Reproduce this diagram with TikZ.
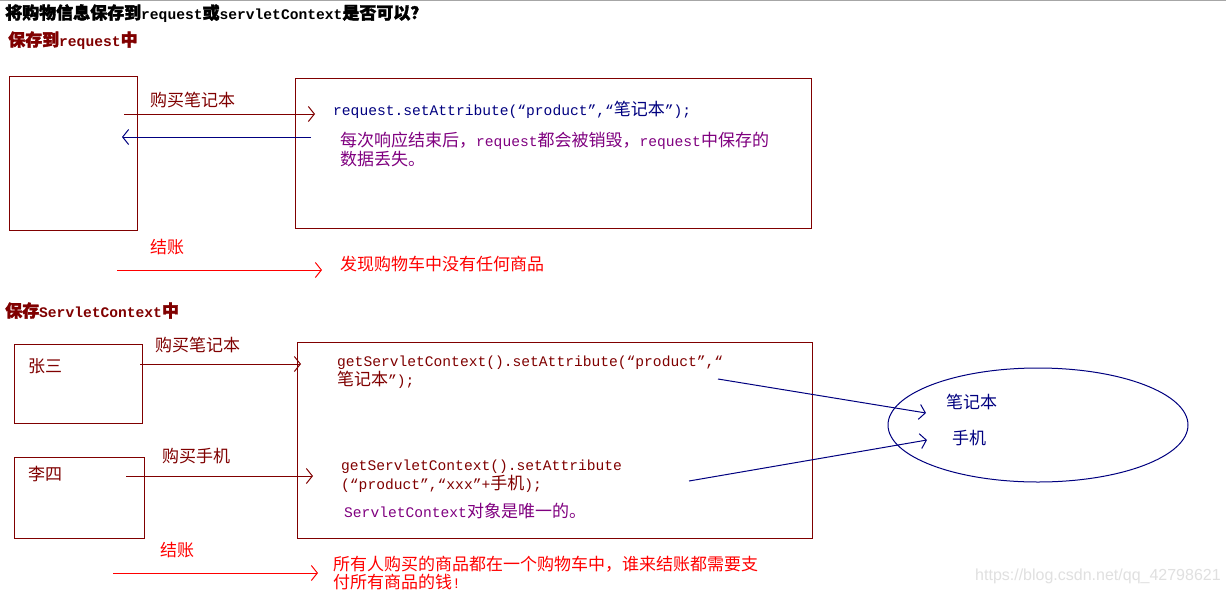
\documentclass[tikz,border=0pt]{standalone}
\usepackage{fontspec}
\setmainfont{Liberation Mono}[Scale=0.86]
\newfontfamily\cjk{Noto Sans CJK SC}
\newfontfamily\cjkb{Noto Sans CJK SC}[FakeBold=2]
\newfontfamily\wmfont{Liberation Sans}
\newcommand\zh[1]{{\cjk #1}}
\newcommand\zhb[1]{{\cjkb #1}}
\usetikzlibrary{arrows.meta,shapes.geometric}
\definecolor{dred}{HTML}{800000}
\definecolor{navyc}{HTML}{000080}
\definecolor{purp}{HTML}{800080}
\definecolor{redc}{HTML}{FF0000}
\begin{document}
\begin{tikzpicture}[x=1pt,y=-1pt,
  txt/.style={anchor=base west, inner sep=0pt, align=left, font=\fontsize{17}{16}\selectfont},
  box/.style={draw=dred, line width=1pt, inner sep=0pt, outer sep=0pt, anchor=north west},
  arr/.style={-{Straight Barb[length=6pt,width=15pt,line width=1pt]}, line width=1pt}]
\useasboundingbox (0,0) rectangle (1226,592);
\fill[white] (0,0) rectangle (1226,592);
\draw[gray!70, line width=1pt] (0,0.5) -- (1226,0.5);

% ---------- section 1 ----------
\node[txt, text=black] (title) at (5,19) {\bfseries\zhb{将购物信息保存到}request\zhb{或}servletContext\zhb{是否可以？}};
\node[txt, text=dred] (h1) at (8,46) {\bfseries\zhb{保存到}request\zhb{中}};

\node[box, minimum width=128pt, minimum height=154pt] (client1) at (9,76) {};
\node[box, minimum width=516pt, minimum height=150pt] (server1) at (295,78) {};

\node[txt, text=dred] (buy1) at (150,106) {\zh{购买笔记本}};
\coordinate (a1s) at (124,114);
\coordinate (a1e) at (315,114);
\draw[arr, dred] (a1s) -- (a1e);
\node[txt, text=navyc] (code1) at (333,115) {request.setAttribute(“product”,“\zh{笔记本}”);};
\coordinate (b1s) at (311,137);
\coordinate (b1e) at (122,137);
\draw[arr, navyc] (b1s) -- (b1e);
\node[txt, text=purp] (note1) at (340,165) {\zh{每次响应结束后，}request\zh{都会被销毁，}request\zh{中保存的}\\\zh{数据丢失。}};

\node[txt, text=redc] (pay1) at (150,253) {\zh{结账}};
\coordinate (c1s) at (117,270);
\coordinate (c1e) at (322,270);
\draw[arr, redc] (c1s) -- (c1e);
\node[txt, text=redc] (res1) at (340,270) {\zh{发现购物车中没有任何商品}};

% ---------- section 2 ----------
\node[txt, text=dred] (h2) at (5,317) {\bfseries\zhb{保存}ServletContext\zhb{中}};

\node[box, minimum width=128pt, minimum height=79pt] (zs) at (14,344) {};
\node[txt, text=dred] (zsl) at (28,372) {\zh{张三}};
\node[box, minimum width=130pt, minimum height=81pt] (ls) at (14,457) {};
\node[txt, text=dred] (lsl) at (28,480) {\zh{李四}};
\node[box, minimum width=515pt, minimum height=196pt] (server2) at (297,342) {};

\node[txt, text=dred] (buy2) at (155,351) {\zh{购买笔记本}};
\coordinate (a2s) at (140,364);
\coordinate (a2e) at (301,364);
\draw[arr, dred] (a2s) -- (a2e);
\node[txt, text=dred] (code2) at (337,385) {getServletContext().setAttribute(“product”,“\\\zh{笔记本}”);};

\node[txt, text=dred] (buy3) at (162,462) {\zh{购买手机}};
\coordinate (a3s) at (126,476);
\coordinate (a3e) at (313,476);
\draw[arr, dred] (a3s) -- (a3e);
\node[txt, text=dred] (code3) at (341,489) {getServletContext().setAttribute\\(“product”,“xxx”+\zh{手机});};
\node[txt, text=purp] (note2) at (344,517) {ServletContext\zh{对象是唯一的。}};

\node[draw=navyc, line width=1pt, ellipse, minimum width=300pt, minimum height=114pt, inner sep=0pt] (store) at (1038,425) {};
\node[txt, text=navyc] (p1) at (946,408) {\zh{笔记本}};
\node[txt, text=navyc] (p2) at (952,444) {\zh{手机}};
\coordinate (d1s) at (718,379);
\coordinate (d1e) at (926,413);
\coordinate (d2s) at (689,481);
\coordinate (d2e) at (927,440);
\draw[arr, navyc] (d1s) -- (d1e);
\draw[arr, navyc] (d2s) -- (d2e);

\node[txt, text=redc] (pay2) at (160,556) {\zh{结账}};
\coordinate (c2s) at (113,573);
\coordinate (c2e) at (318,573);
\draw[arr, redc] (c2s) -- (c2e);
\node[txt, text=redc] (res2) at (333,588) {\zh{所有人购买的商品都在一个购物车中，谁来结账都需要支}\\\zh{付所有商品的钱}!};

\node[anchor=base west, inner sep=0pt, text=black!12, font=\wmfont\fontsize{16}{16}\selectfont] (wm) at (975,580) {https://blog.csdn.net/qq\_42798621};
\end{tikzpicture}
\end{document}
